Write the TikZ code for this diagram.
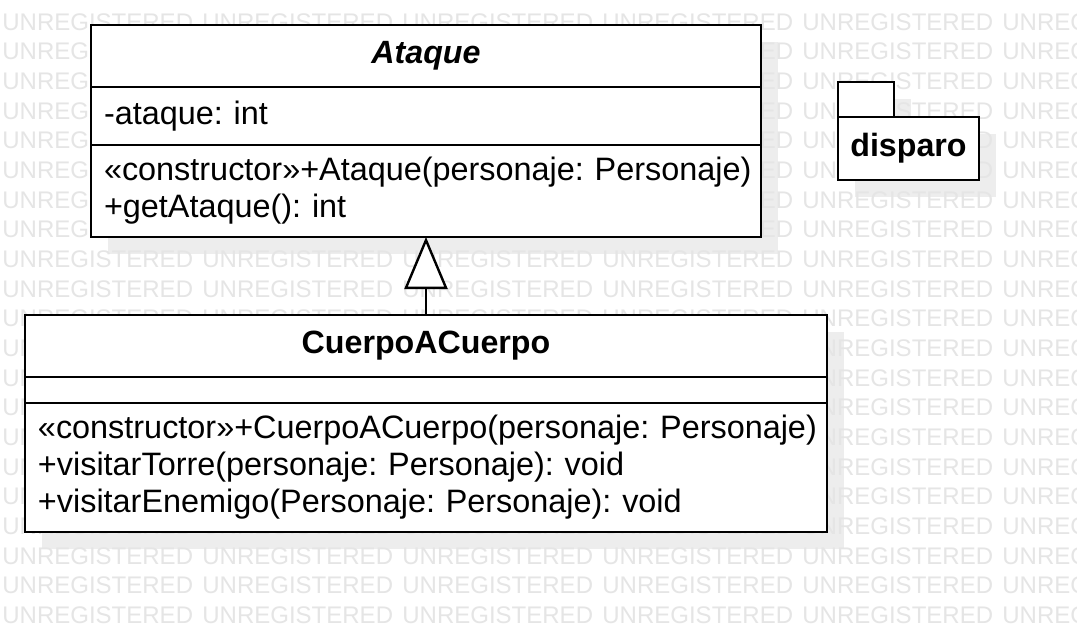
\documentclass[tikz,border=0pt]{standalone}
\usepackage{fontspec}
\setmainfont{Liberation Sans}
\frenchspacing
\hyphenpenalty=10000
\hbadness=10000
\hfuzz=20pt
\usetikzlibrary{positioning,arrows.meta,backgrounds}
\tikzset{cbox/.style={
    rectangle,
    draw,
    fill=white,
    line width=1.2pt,
    inner sep=0pt,
    outer sep=0pt,
    font=\fontsize{16.2}{18.5}\selectfont
  },
  titlebox/.style={cbox,font=\fontsize{16.1}{18.5}\selectfont\bfseries},
  membox/.style={cbox,align=left,inner xsep=6.5pt},
  pkgbox/.style={titlebox,minimum width=70.5pt,minimum height=31.5pt},
  pkgtab/.style={cbox,minimum width=28pt,minimum height=17.5pt},
  dropfill/.style={fill=black!7},
  wmark/.style={text=black!10,font=\fontsize{12}{14}\selectfont,inner sep=0pt,anchor=west},
}

\begin{document}
\begin{tikzpicture}[x=0.5pt,y=-0.5pt]
  \useasboundingbox (0,0) rectangle (1077,632);
  \node [titlebox,minimum width=335pt,minimum height=31pt] (ataque) at (426,56) {\textit{Ataque}};
  \node [membox,text width=322pt,minimum height=29pt,below=0pt of ataque] (ataqueattr) {-ataque: int};
  \node [membox,text width=322pt,minimum height=46pt,below=0pt of ataqueattr] (ataqueops)
    {«constructor»+Ataque(personaje:~Personaje)\\+getAtaque(): int};

  \node [titlebox,minimum width=401pt,minimum height=31pt] (cuerpo) at (426,346) {CuerpoACuerpo};
  \node [membox,text width=388pt,minimum height=13pt,below=0pt of cuerpo] (cuerpoattr) {};
  \node [membox,text width=388pt,minimum height=64.5pt,below=0pt of cuerpoattr] (cuerpoops)
    {«constructor»+CuerpoACuerpo(personaje:~Personaje)\\
     +visitarTorre(personaje:~Personaje): void\\
     +visitarEnemigo(Personaje:~Personaje): void};

  \node [pkgbox] (disparo) at (908.5,148.5) {disparo};
  \node [pkgtab,anchor=south west] (disparotab) at (disparo.north west) {};

  \draw[line width=1.2pt,-{Triangle[length=26pt,width=21.5pt,fill=white]}] (cuerpo) -- (ataqueops);

  % shadows and watermark behind everything
  \begin{scope}[on background layer]
    \fill[white] (0,0) rectangle (1077,632);
    \fill[dropfill] ([shift={(8.5pt,-8.5pt)}]ataque.north west) rectangle ([shift={(8.5pt,-8.5pt)}]ataqueops.south east);
    \fill[dropfill] ([shift={(8.5pt,-8.5pt)}]cuerpo.north west) rectangle ([shift={(8.5pt,-8.5pt)}]cuerpoops.south east);
    \fill[dropfill] ([shift={(8.5pt,-8.5pt)}]disparo.north west) rectangle ([shift={(8.5pt,-8.5pt)}]disparo.south east);
    \fill[dropfill] ([shift={(8.5pt,-8.5pt)}]disparotab.north west) rectangle ([shift={(8.5pt,-8.5pt)}]disparotab.south east);
    \clip (0,0) rectangle (1077,632);
    \foreach \r in {0,...,20}
      \foreach \c in {0,...,5}
        \node [wmark] (wm-\r-\c) at ({2+200*\c},{22+29.67*\r}) {UNREGISTERED};
  \end{scope}
\end{tikzpicture}
\end{document}
